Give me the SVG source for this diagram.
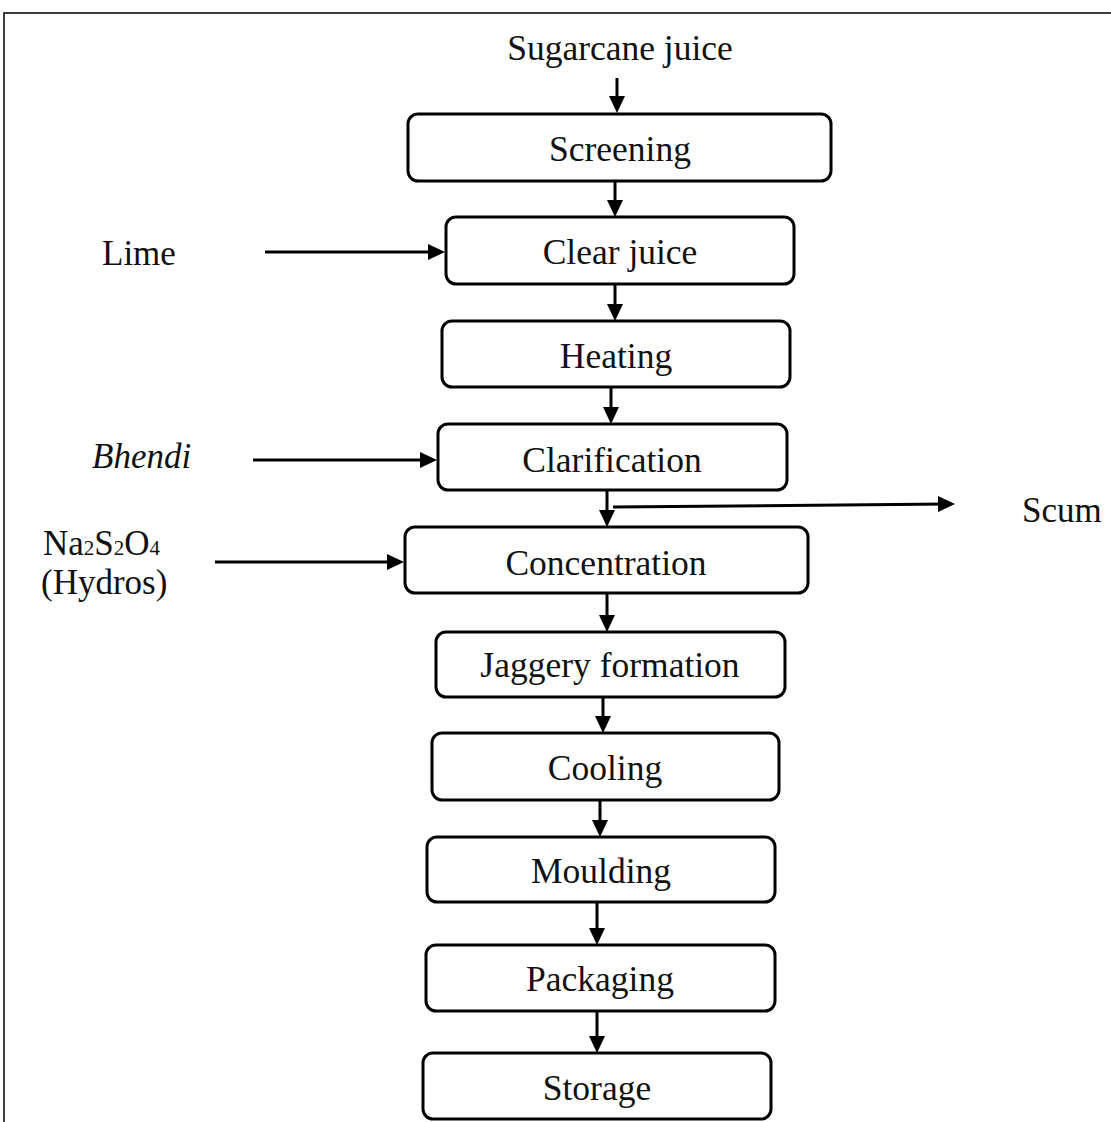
<svg xmlns="http://www.w3.org/2000/svg" width="1111" height="1122" viewBox="0 0 1111 1122">
<defs>
<style>
.box{fill:#fff;stroke:#000;stroke-width:3}
.t{font-family:"Liberation Serif","Times New Roman",serif;font-size:35.5px;fill:#111;text-anchor:middle}
.l{font-family:"Liberation Serif","Times New Roman",serif;font-size:35px;fill:#111}
.c{stroke:#000;stroke-width:3;fill:none;marker-end:url(#ah)}
</style>
<marker id="ah" markerUnits="userSpaceOnUse" markerWidth="17" markerHeight="16" refX="9" refY="8" orient="auto" viewBox="0 0 17 16">
<path d="M0,0 L17,8 L0,16 Z" fill="#000"/>
</marker>
</defs>
<rect x="0" y="0" width="1111" height="1122" fill="#fff"/>
<path d="M4,1122 L4,13 L1111,13" fill="none" stroke="#000" stroke-width="1.5"/>

<g id="input-sugarcane"><text class="t" x="620" y="60">Sugarcane juice</text></g>
<g id="input-lime"><text class="l" x="102" y="265">Lime</text></g>
<g id="input-bhendi"><text class="l" x="92" y="468" font-style="italic">Bhendi</text></g>
<g id="input-hydros"><text class="l" x="43" y="555" font-size="33">Na<tspan font-size="21">2</tspan>S<tspan font-size="21">2</tspan>O<tspan font-size="21">4</tspan></text><text class="l" x="41" y="594" font-size="34">(Hydros)</text></g>
<g id="output-scum"><text class="l" x="1022" y="522">Scum</text></g>

<g id="screening"><rect class="box" x="408" y="114" width="423" height="67" rx="10"/><text class="t" x="620" y="161">Screening</text></g>
<g id="clear-juice"><rect class="box" x="446" y="217" width="348" height="67" rx="10"/><text class="t" x="620" y="264">Clear juice</text></g>
<g id="heating"><rect class="box" x="442" y="321" width="348" height="66" rx="10"/><text class="t" x="616" y="368">Heating</text></g>
<g id="clarification"><rect class="box" x="438" y="424" width="349" height="66" rx="10"/><text class="t" x="612" y="472">Clarification</text></g>
<g id="concentration"><rect class="box" x="405" y="527" width="403" height="66" rx="10"/><text class="t" x="606" y="575">Concentration</text></g>
<g id="jaggery-formation"><rect class="box" x="436" y="632" width="349" height="65" rx="10"/><text class="t" x="610" y="677">Jaggery formation</text></g>
<g id="cooling"><rect class="box" x="432" y="733" width="347" height="67" rx="10"/><text class="t" x="605" y="780">Cooling</text></g>
<g id="moulding"><rect class="box" x="427" y="837" width="348" height="65" rx="10"/><text class="t" x="601" y="883">Moulding</text></g>
<g id="packaging"><rect class="box" x="426" y="945" width="349" height="66" rx="10"/><text class="t" x="600" y="991">Packaging</text></g>
<g id="storage"><rect class="box" x="423" y="1053" width="348" height="66" rx="10"/><text class="t" x="597" y="1100">Storage</text></g>

<g id="connectors">
<line class="c" x1="617" y1="78" x2="617" y2="105"/>
<line class="c" x1="615" y1="181" x2="615" y2="209"/>
<line class="c" x1="615" y1="284" x2="615" y2="313"/>
<line class="c" x1="611" y1="387" x2="611" y2="416"/>
<line class="c" x1="607" y1="490" x2="607" y2="519"/>
<line class="c" x1="607" y1="593" x2="607" y2="624"/>
<line class="c" x1="603" y1="697" x2="603" y2="725"/>
<line class="c" x1="600" y1="800" x2="600" y2="829"/>
<line class="c" x1="597" y1="902" x2="597" y2="937"/>
<line class="c" x1="597" y1="1011" x2="597" y2="1045"/>
<line class="c" x1="265" y1="252" x2="437" y2="252"/>
<line class="c" x1="253" y1="460" x2="429" y2="460"/>
<line class="c" x1="215" y1="562" x2="396" y2="562"/>
<line class="c" x1="613" y1="507" x2="947" y2="504"/>
</g>
</svg>
